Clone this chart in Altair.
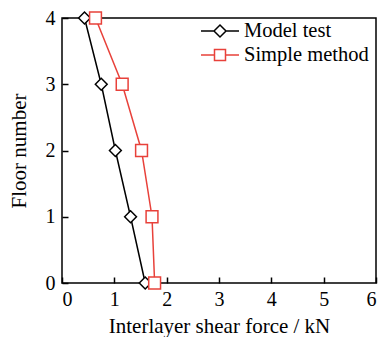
import altair as alt
import pandas as pd

# ---- data ----
floors = [0, 1, 2, 3, 4]
model_test = [1.59, 1.31, 1.02, 0.75, 0.43]
simple_method = [1.77, 1.72, 1.52, 1.15, 0.64]
series_names = ["Model test", "Simple method"]
series_colors = ["#000000", "#e8413a"]
x_ticks = [0, 1, 2, 3, 4, 5, 6]
y_ticks = [0, 1, 2, 3, 4]

rows = []
for name, values in zip(series_names, [model_test, simple_method]):
    for f, v in zip(floors, values):
        rows.append({"floor": f, "force": v, "series": name})
df = pd.DataFrame(rows)

FONT = "Liberation Serif"

# legend symbols: line + marker
diamond_legend = "M-1.9,0L-0.6,0M0.6,0L1.9,0M-0.6,0L0,-0.6L0.6,0L0,0.6Z"
square_legend = "M-1.9,0L-0.55,0M0.55,0L1.9,0M-0.55,-0.55L0.55,-0.55L0.55,0.55L-0.55,0.55Z"

x_scale = alt.Scale(domain=[0, 6], nice=False, zero=True)
y_scale = alt.Scale(domain=[0, 4], nice=False, zero=True)

main_x_axis = alt.Axis(values=x_ticks, format="d", title="Interlayer shear force / kN",
                       ticks=False, tickSize=0, domain=False, grid=False,
                       labelFont=FONT, titleFont=FONT, labelFontSize=20, titleFontSize=21,
                       labelPadding=6, titlePadding=6)
main_y_axis = alt.Axis(values=y_ticks, format="d", title="Floor number",
                       ticks=False, tickSize=0, domain=False, grid=False,
                       labelFont=FONT, titleFont=FONT, labelFontSize=20, titleFontSize=21,
                       labelPadding=7, titlePadding=16)
tick_x_axis = alt.Axis(values=x_ticks, orient="bottom", offset=-6, tickSize=6,
                       tickWidth=1.5, tickColor="black", labels=False,
                       domain=False, grid=False, title=None)
tick_y_axis = alt.Axis(values=y_ticks, orient="left", offset=-6, tickSize=6,
                       tickWidth=1.5, tickColor="black", labels=False,
                       domain=False, grid=False, title=None)

color_scale = alt.Scale(domain=series_names, range=series_colors)

lines = alt.Chart(df).mark_line(strokeWidth=1.5).encode(
    x=alt.X("force:Q", scale=x_scale, axis=main_x_axis),
    y=alt.Y("floor:Q", scale=y_scale, axis=main_y_axis),
    order=alt.Order("floor:Q"),
    color=alt.Color("series:N", scale=color_scale, legend=None),
)

points = alt.Chart(df).mark_point(filled=True, fill="white", size=140, strokeWidth=1.5, opacity=1).encode(
    x=alt.X("force:Q", scale=x_scale, axis=tick_x_axis),
    y=alt.Y("floor:Q", scale=y_scale, axis=tick_y_axis),
    stroke=alt.Stroke("series:N", scale=color_scale, legend=None),
    shape=alt.Shape("series:N", scale=alt.Scale(domain=series_names, range=["diamond", "square"]), legend=None),
)

legend_props = dict(title=None, orient="none", legendX=147, legendY=2,
                    padding=0, symbolSize=400, symbolStrokeWidth=1.5,
                    labelOffset=13, rowPadding=2, labelFont=FONT,
                    labelFontSize=20.5, labelColor="black")

legend_layer = alt.Chart(df).transform_filter("false").mark_point(
    filled=True, fill="white", strokeWidth=1.5, opacity=1
).encode(
    x=alt.X("force:Q", scale=x_scale, axis=None),
    y=alt.Y("floor:Q", scale=y_scale, axis=None),
    stroke=alt.Stroke("series:N", scale=color_scale, legend=alt.Legend(**legend_props)),
    shape=alt.Shape("series:N", scale=alt.Scale(domain=series_names, range=[diamond_legend, square_legend]),
                    legend=alt.Legend(**legend_props)),
)

chart = alt.layer(lines, points, legend_layer).resolve_scale(
    color="independent", shape="independent", stroke="independent"
).resolve_axis(x="independent", y="independent").properties(
    width=314, height=265,
    padding={"left": 54, "top": 10, "right": 2, "bottom": 54},
    autosize=alt.AutoSizeParams(type="none"),
    background="white",
).configure_view(stroke="black", strokeWidth=1.5).configure_axis(
    labelFont=FONT, titleFont=FONT, labelFontSize=20, titleFontSize=21,
    labelColor="black", titleColor="black", titleFontWeight="normal",
).configure_legend(labelFont=FONT)

chart.save("out.html", embed_options={"renderer": "svg", "actions": False})
